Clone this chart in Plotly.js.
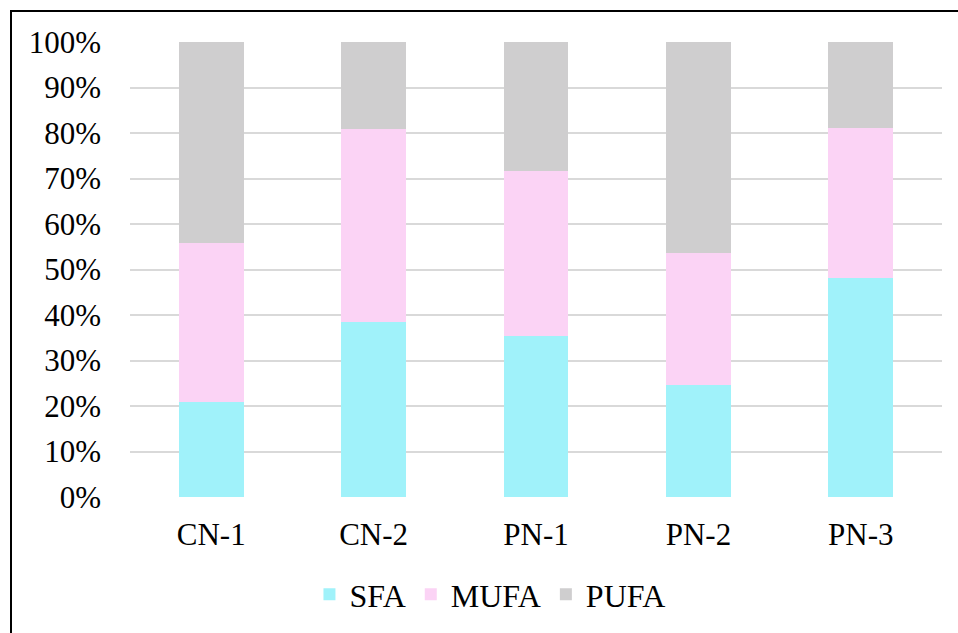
<!DOCTYPE html>
<html>
<head>
<meta charset="utf-8">
<script src="https://cdn.plot.ly/plotly-3.0.1.min.js"></script>
<style>
html,body{margin:0;padding:0;background:#fff;}
#wrap{position:relative;width:958px;height:633px;overflow:hidden;}
#chart{position:absolute;left:0;top:0;width:958px;height:633px;}
#frame{position:absolute;left:10px;top:10px;width:960px;height:640px;border-left:2px solid #000;border-top:2px solid #000;pointer-events:none;}
</style>
</head>
<body>
<div id="wrap"><div id="chart"></div><div id="frame"></div></div>
<script>
const categories = ["CN-1", "CN-2", "PN-1", "PN-2", "PN-3"];
const sfa  = [20.9, 38.4, 35.3, 24.6, 48.1];
const mufa = [35.0, 42.4, 36.3, 29.0, 32.9];
const pufa = [44.1, 19.2, 28.4, 46.4, 19.0];
const yTicks = [0, 10, 20, 30, 40, 50, 60, 70, 80, 90, 100];
const yTickLabels = yTicks.map(v => v + "%");

const font = {family: "Liberation Serif", size: 31, color: "#000"};
const legendFont = {family: "Liberation Serif", size: 32, color: "#000"};
const mk = (name, y, color) => ({
  type: "bar", name: name, x: categories, y: y,
  marker: {color: color, line: {width: 0}}, width: 0.4
});
const data = [
  mk("SFA", sfa, "#A0F2FA"),
  mk("MUFA", mufa, "#FBD3F5"),
  mk("PUFA", pufa, "#CFCECF")
];
const layout = {
  width: 958, height: 633,
  margin: {l: 130, r: 16, t: 42, b: 136, autoexpand: false},
  paper_bgcolor: "#fff", plot_bgcolor: "#fff",
  barmode: "stack",
  font: font,
  showlegend: true,
  legend: {orientation: "h", x: 0.221, xanchor: "left", y: -0.214, yanchor: "middle",
           font: legendFont, itemwidth: 30, traceorder: "normal"},
  xaxis: {type: "category", showgrid: false, zeroline: false, showline: false, ticks: "",
          tickfont: font, ticklabelstandoff: 16, automargin: false},
  yaxis: {range: [0, 100], tickvals: yTicks, ticktext: yTickLabels, showgrid: true,
          gridcolor: "#D9D9D9", gridwidth: 2, zeroline: false, showline: false, ticks: "",
          tickfont: font, ticklabelstandoff: 28, automargin: false}
};
Plotly.newPlot("chart", data, layout, {displayModeBar: false, staticPlot: true});
</script>
</body>
</html>
